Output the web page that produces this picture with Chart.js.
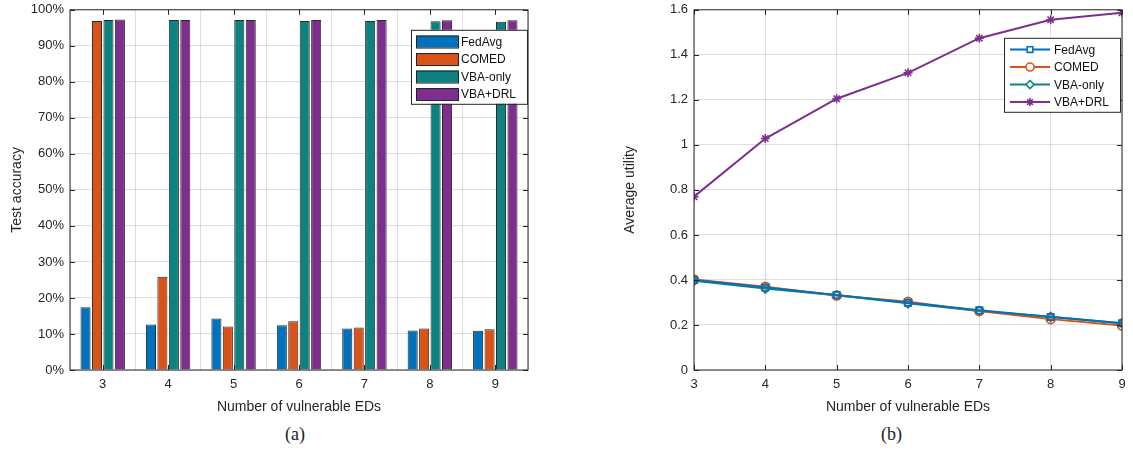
<!DOCTYPE html>
<html>
<head>
<meta charset="utf-8">
<script src="https://cdn.jsdelivr.net/npm/chart.js@4"></script>
<style>
  body { margin: 0; background: #fff; }
  #wrap { position: relative; width: 1133px; height: 455px; overflow: hidden; }
  .box { position: absolute; top: -4px; height: 424px; }
  .cap { position: absolute; top: 424px; font: 18px "Liberation Serif", "Times New Roman", serif; color: #222; }
</style>
</head>
<body>
<div id="wrap">
  <div class="box" style="left:0;width:540px"><canvas id="accChart" width="540" height="424"></canvas></div>
  <div class="box" style="left:600px;width:533px"><canvas id="utilChart" width="533" height="424"></canvas></div>
  <div class="cap" style="left:285px">(a)</div>
  <div class="cap" style="left:881px">(b)</div>
</div>
<script>
const edCounts = [3, 4, 5, 6, 7, 8, 9];
const seriesNames = ["FedAvg", "COMED", "VBA-only", "VBA+DRL"];
const seriesColors = ["#0072BD", "#D95319", "#0E8181", "#7E2F8E"];

// (a) test accuracy, %
const accFedAvg = [17.4, 12.6, 14.3, 12.4, 11.5, 11.0, 10.9];
const accComed = [96.9, 25.9, 12.1, 13.5, 11.8, 11.5, 11.3];
const accVbaOnly = [97.2, 97.2, 97.2, 96.9, 96.9, 96.8, 96.7];
const accVbaDrl = [97.3, 97.2, 97.2, 97.2, 97.2, 97.1, 97.1];

// (b) average utility
const utilFedAvg = [0.400, 0.366, 0.333, 0.299, 0.265, 0.235, 0.208];
const utilComed = [0.402, 0.370, 0.331, 0.303, 0.262, 0.226, 0.198];
const utilVbaOnly = [0.397, 0.362, 0.332, 0.296, 0.262, 0.236, 0.208];
const utilVbaDrl = [0.770, 1.028, 1.205, 1.320, 1.474, 1.556, 1.587];

const tickFont = { family: "'Liberation Sans', Arial, sans-serif", size: 13 };
const titleFont = { family: "'Liberation Sans', Arial, sans-serif", size: 14 };
const gridColor = "rgba(0,0,0,0.13)";

// plot box with inner ticks on all four sides, MATLAB style
const boxPlugin = {
  id: "box",
  afterDraw(chart) {
    const { ctx, chartArea: a, scales } = chart;
    ctx.save();
    ctx.strokeStyle = "#262626";
    ctx.lineWidth = 1;
    ctx.strokeRect(a.left, a.top, a.right - a.left, a.bottom - a.top);
    const len = 5;
    ctx.beginPath();
    scales.y.ticks.forEach((t) => {
      const y = Math.round(scales.y.getPixelForValue(t.value)) + 0.5;
      ctx.moveTo(a.left, y); ctx.lineTo(a.left + len, y);
      ctx.moveTo(a.right, y); ctx.lineTo(a.right - len, y);
    });
    scales.x.ticks.forEach((t, i) => {
      const x = Math.round(scales.x.getPixelForTick(i)) + 0.5;
      ctx.moveTo(x, a.bottom); ctx.lineTo(x, a.bottom - len);
      ctx.moveTo(x, a.top); ctx.lineTo(x, a.top + len);
    });
    ctx.stroke();
    ctx.restore();
  },
};

// legend box drawn inside the plot area
const innerLegend = {
  id: "innerLegend",
  afterDraw(chart, args, opts) {
    const { ctx, chartArea: a } = chart;
    const sets = chart.data.datasets;
    const w = opts.width, rowH = 17.5;
    const x0 = a.right - w - opts.right, y0 = a.top + opts.top;
    const h = sets.length * rowH + 4;
    ctx.save();
    ctx.fillStyle = "#fff";
    ctx.fillRect(x0, y0, w, h);
    ctx.strokeStyle = "#262626";
    ctx.lineWidth = 1;
    ctx.strokeRect(x0 + 0.5, y0 + 0.5, w, h);
    ctx.font = "12px 'Liberation Sans', Arial, sans-serif";
    ctx.textBaseline = "middle";
    sets.forEach((ds, i) => {
      const cy = y0 + 3 + rowH * i + rowH / 2;
      if (opts.kind === "bar") {
        ctx.fillStyle = ds.backgroundColor;
        ctx.fillRect(x0 + 5, cy - 6, 42, 12);
        ctx.strokeStyle = "#222";
        ctx.strokeRect(x0 + 5.5, cy - 5.5, 42, 12);
      } else {
        ctx.strokeStyle = ds.borderColor;
        ctx.lineWidth = 2;
        ctx.beginPath(); ctx.moveTo(x0 + 6, cy); ctx.lineTo(x0 + 46, cy); ctx.stroke();
        ctx.lineWidth = 1.6;
        ctx.fillStyle = ds.pointStyle === "star" ? ds.borderColor : "#fff";
        Chart.helpers.drawPoint(ctx, { pointStyle: ds.pointStyle, radius: 4, borderWidth: 1.6 }, x0 + 26, cy);
      }
      ctx.fillStyle = "#111";
      ctx.fillText(ds.label, x0 + 50, cy + 1);
    });
    ctx.restore();
  },
};

new Chart(document.getElementById("accChart"), {
  type: "bar",
  data: {
    labels: edCounts,
    datasets: [accFedAvg, accComed, accVbaOnly, accVbaDrl].map((d, i) => ({
      label: seriesNames[i], data: d,
      backgroundColor: seriesColors[i], borderColor: "#2a2a2a", borderWidth: 1,
      categoryPercentage: 0.7, barPercentage: 0.88,
    })),
  },
  options: {
    responsive: false, animation: false, devicePixelRatio: 1,
    layout: { padding: { top: 0, right: 12, left: 5, bottom: 0 } },
    plugins: { legend: { display: false }, tooltip: { enabled: false },
      innerLegend: { kind: "bar", width: 116, right: 1, top: 20 } },
    scales: {
      x: {
        grid: { color: gridColor, offset: true, drawTicks: false },
        border: { display: false },
        ticks: { color: "#262626", font: tickFont, padding: 7, maxRotation: 0 },
        title: { display: true, text: "Number of vulnerable EDs", color: "#262626", font: titleFont, padding: { top: 4 } },
        afterFit: (s) => { s.height = 50; },
      },
      y: {
        min: 0, max: 100,
        grid: { color: gridColor, drawTicks: false },
        border: { display: false },
        ticks: { stepSize: 10, color: "#262626", font: tickFont, padding: 6, callback: (v) => v + "%" },
        title: { display: true, text: "Test accuracy", color: "#262626", font: titleFont, padding: { bottom: 2 } },
        afterFit: (s) => { s.width = 65; },
      },
    },
  },
  plugins: [boxPlugin, innerLegend],
});

const utilStyles = ["rect", "circle", "rectRot", "star"];
new Chart(document.getElementById("utilChart"), {
  type: "line",
  data: {
    datasets: [utilFedAvg, utilComed, utilVbaOnly, utilVbaDrl].map((d, i) => ({
      label: seriesNames[i],
      data: d.map((v, j) => ({ x: edCounts[j], y: v })),
      borderColor: seriesColors[i], backgroundColor: "rgba(255,255,255,0)",
      borderWidth: 2, pointStyle: utilStyles[i], pointRadius: 4.5,
      pointBorderWidth: 1.6, pointBackgroundColor: "rgba(255,255,255,0)",
      pointBorderColor: seriesColors[i], tension: 0,
    })),
  },
  options: {
    responsive: false, animation: false, devicePixelRatio: 1,
    layout: { padding: { top: 0, right: 11, left: 18, bottom: 0 } },
    plugins: { legend: { display: false }, tooltip: { enabled: false },
      innerLegend: { kind: "line", width: 116, right: 2, top: 28 } },
    scales: {
      x: {
        type: "linear", min: 3, max: 9,
        grid: { color: gridColor, drawTicks: false },
        border: { display: false },
        ticks: { stepSize: 1, color: "#262626", font: tickFont, padding: 7 },
        title: { display: true, text: "Number of vulnerable EDs", color: "#262626", font: titleFont, padding: { top: 4 } },
        afterFit: (s) => { s.height = 50; },
      },
      y: {
        min: 0, max: 1.6,
        grid: { color: gridColor, drawTicks: false },
        border: { display: false },
        ticks: { stepSize: 0.2, color: "#262626", font: tickFont, padding: 6,
          callback: (v) => String(+v.toFixed(1)) },
        title: { display: true, text: "Average utility", color: "#262626", font: titleFont, padding: { bottom: 2 } },
        afterFit: (s) => { s.width = 76; },
      },
    },
  },
  plugins: [boxPlugin, innerLegend],
});
</script>
</body>
</html>
